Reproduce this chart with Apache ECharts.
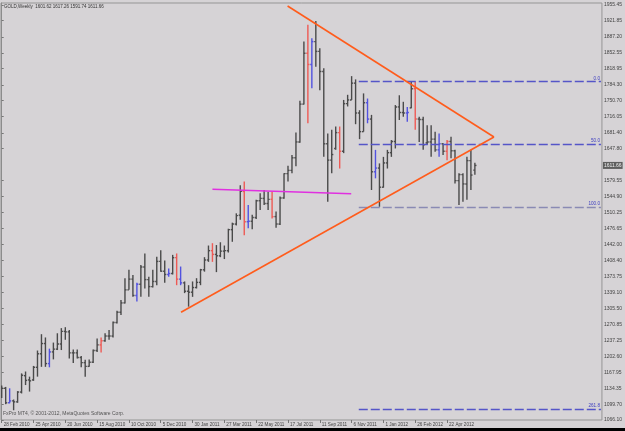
<!DOCTYPE html>
<html lang="en">
<head>
  <meta charset="UTF-8">
  <title>GOLD Weekly</title>
  <script src="https://cdn.jsdelivr.net/npm/echarts@6/dist/echarts.min.js"></script>
  <style>
    html, body { margin: 0; padding: 0; background: #d6d3d6; }
  </style>
</head>
<body>
  <div id="chart" style="width: 625px;height: 431px;"></div>

  <script type="text/javascript">
    // weekly bars, first one is the week of 28 Feb 2010
    const opens  = [1118,1134,1103,1107,1105,1126,1161,1152,1152,1179,1208,1230,1187,1212,1218,1229,1256,1255,1210,1210,
                    1200,1189,1181,1190,1215,1227,1236,1246,1246,1275,1297,1317,1345,1368,1333,1357,1394,1367,1352,1363,
                    1406,1385,1378,1380,1414,1368,1360,1342,1340,1350,1361,1388,1409,1429,1421,1418,1428,1429,1474,1486,
                    1505,1556,1491,1492,1500,1536,1541,1530,1539,1502,1486,1542,1594,1601,1628,1662,1743,1852,1828,1877,
                    1856,1813,1658,1623,1648,1682,1642,1744,1752,1788,1724,1684,1746,1711,1598,1606,1565,1617,1639,1663,
                    1737,1725,1724,1735,1776,1711,1710,1660,1662,1668,1645,1658,1642,1663,1643,1579,1592,1572,1622,1601.62];
    const highs  = [1140,1137,1134,1110,1128,1166,1170,1159,1182,1215,1250,1243,1219,1232,1252,1263,1265,1259,1217,1217,
                    1203,1195,1196,1217,1241,1243,1252,1259,1277,1300,1323,1370,1388,1377,1360,1398,1423,1373,1388,1416,
                    1430,1408,1391,1420,1423,1395,1363,1355,1363,1370,1390,1415,1440,1445,1441,1447,1440,1476,1489,1509,
                    1569,1577,1527,1506,1538,1552,1559,1555,1556,1513,1545,1595,1611,1634,1682,1750,1877,1913,1884,1921,
                    1863,1820,1680,1688,1695,1695,1752,1763,1803,1796,1730,1766,1755,1720,1645,1616,1630,1645,1666,1741,
                    1762,1748,1737,1791,1791,1716,1716,1698,1698,1684,1680,1659,1666,1673,1645,1595,1595,1630,1645,1617.26];
    const lows   = [1113,1100,1102,1087,1103,1123,1141,1127,1150,1159,1180,1180,1179,1196,1216,1216,1238,1198,1188,1198,
                    1179,1159,1180,1188,1212,1211,1234,1238,1243,1273,1291,1316,1345,1330,1320,1330,1348,1330,1350,1355,
                    1384,1360,1373,1378,1355,1355,1338,1309,1330,1348,1355,1384,1405,1405,1383,1415,1411,1425,1448,1483,
                    1495,1462,1477,1475,1497,1516,1527,1516,1498,1478,1484,1540,1577,1595,1610,1660,1742,1702,1777,1823,
                    1773,1630,1534,1595,1645,1605,1638,1738,1752,1700,1668,1684,1702,1559,1584,1523,1564,1605,1630,1648,
                    1709,1716,1705,1734,1688,1662,1645,1656,1630,1641,1630,1634,1623,1627,1573,1527,1534,1538,1559,1591.74];
    const closes = [1134,1103,1107,1105,1126,1162,1151,1150,1179,1208,1230,1187,1212,1218,1229,1256,1255,1210,1210,1200,
                    1189,1181,1190,1215,1227,1236,1246,1246,1275,1297,1317,1345,1368,1333,1357,1394,1367,1352,1363,1406,
                    1385,1378,1380,1414,1368,1360,1342,1340,1350,1361,1388,1409,1429,1421,1418,1428,1429,1474,1486,1504,
                    1556,1491,1492,1500,1536,1541,1530,1539,1502,1486,1542,1594,1601,1628,1662,1743,1852,1828,1877,1856,
                    1813,1658,1623,1635,1682,1642,1744,1752,1788,1724,1684,1746,1711,1598,1606,1565,1617,1639,1663,1737,
                    1725,1724,1725,1776,1711,1710,1656,1662,1668,1645,1658,1642,1663,1643,1579,1592,1572,1622,1591,1611.66];

    // bars painted by the signal indicator
    const redBars  = [25, 44, 53, 61, 68, 77, 85, 104, 112];
    const blueBars = [2, 12, 34, 42, 45, 62, 78, 92, 94, 102, 110];

    const dateLabels = ['28 Feb 2010', '25 Apr 2010', '20 Jun 2010', '15 Aug 2010', '10 Oct 2010', '5 Dec 2010',
                        '30 Jan 2011', '27 Mar 2011', '22 May 2011', '17 Jul 2011', '11 Sep 2011', '6 Nov 2011',
                        '1 Jan 2012', '26 Feb 2012', '22 Apr 2012'];
    const weeksPerLabel = 8;

    const priceLabels = ['1955.45', '1921.85', '1887.20', '1852.55', '1818.95', '1784.30', '1750.70', '1716.05',
                         '1681.40', '1647.80', '1579.55', '1544.90', '1510.25', '1476.65', '1442.00', '1408.40',
                         '1373.75', '1339.10', '1305.50', '1270.85', '1237.25', '1202.60', '1167.95', '1134.35',
                         '1099.70', '1066.10'];

    // objects drawn on the chart: [bar index, price]
    const upperTrend = [[71.9, 1953.3], [123.8, 1672.6]];
    const lowerTrend = [[45.1, 1296.9], [123.8, 1672.6]];
    const pinkLine   = [[53.0, 1560.5], [87.9, 1551.0]];

    const fibHigh = 1791;
    const fibLow = 1523;
    const fibLevels = [0, 50, 100, 261.8];
    const fibStart = 89.8;
    const fibEnd = 150.7;

    const symbol = 'GOLD,Weekly';
    const copyright = 'FxPro MT4, \u00a9 2001-2012, MetaQuotes Software Corp.';

    const FONT = 'Liberation Sans';
    const last = opens.length - 1;

    const barData = opens.map((o, i) => [i, o, highs[i], lows[i], closes[i]]);

    function barColor(i) {
      if (redBars.includes(i)) return '#ee5a55';
      if (blueBars.includes(i)) return '#5252e0';
      return '#4a4a4a';
    }

    function renderBar(params, api) {
      const i = api.value(0);
      const o = api.coord([i, api.value(1)]);
      const h = api.coord([i, api.value(2)]);
      const l = api.coord([i, api.value(3)]);
      const c = api.coord([i, api.value(4)]);
      const x = h[0];
      const style = { stroke: barColor(i), lineWidth: 1.4 };
      return {
        type: 'group',
        children: [
          { type: 'line', shape: { x1: x, y1: h[1], x2: x, y2: l[1] }, style },
          { type: 'line', shape: { x1: x - 1.6, y1: o[1], x2: x, y2: o[1] }, style },
          { type: 'line', shape: { x1: x, y1: c[1], x2: x + 1.6, y2: c[1] }, style },
        ],
      };
    }

    const fibLines = fibLevels.map(lv => {
      const p = fibHigh - lv / 100 * (fibHigh - fibLow);
      const start = { coord: [fibStart, p], label: { formatter: lv.toFixed(1) } };
      if (lv === 100) start.lineStyle = { color: '#8a8ab4', type: [9, 3], width: 1.4 };
      return [start, { coord: [fibEnd, p] }];
    });

    const lineSeries = (data, color, width) => ({
      type: 'line',
      data,
      showSymbol: false,
      silent: true,
      animation: false,
      lineStyle: { color, width },
      z: 5,
    });

    const myChart = echarts.init(document.getElementById('chart'));

    const option = {
      backgroundColor: '#d6d3d6',
      animation: false,
      grid: {
        left: 1, right: 21, top: 3, bottom: 11,
        show: true, borderColor: '#959595', borderWidth: 1,
      },
      xAxis: {
        type: 'value',
        min: -0.175,
        max: 150.95,
        splitLine: { show: false },
        axisLine: { show: false },
        axisTick: {
          customValues: dateLabels.map((d, k) => k * weeksPerLabel),
          length: 3,
          lineStyle: { color: '#777' },
        },
        axisLabel: {
          customValues: dateLabels.map((d, k) => k * weeksPerLabel),
          formatter: v => dateLabels[Math.round(v / weeksPerLabel)],
          align: 'left',
          margin: 2,
          fontSize: 4.6,
          fontFamily: FONT,
          color: '#444',
          padding: [0, 0, 0, 2],
        },
      },
      yAxis: {
        type: 'value',
        position: 'right',
        min: 1066.10,
        max: 1066.10 + 417 * 2.143,
        splitLine: { show: false },
        axisLine: { show: true, lineStyle: { color: '#8c8c8c' } },
        axisTick: {
          customValues: priceLabels.map(Number),
          length: 2,
          lineStyle: { color: '#777' },
        },
        axisLabel: {
          customValues: priceLabels.map(Number),
          formatter: v => v.toFixed(2),
          margin: 2,
          fontSize: 5,
          fontFamily: FONT,
          color: '#444',
        },
      },
      series: [
        {
          type: 'custom',
          renderItem: renderBar,
          data: barData,
          encode: { x: 0, y: [1, 2, 3, 4] },
          clip: true,
          silent: true,
          z: 3,
        },
        {
          ...lineSeries(upperTrend, '#ff5c1c', 1.6),
          markLine: {
            symbol: 'none',
            silent: true,
            animation: false,
            lineStyle: { color: '#5555c8', type: [9, 3], width: 1.4 },
            data: fibLines,
            label: {
              position: 'insideEndTop',
              distance: 1,
              fontSize: 4.6,
              fontFamily: FONT,
              color: '#3c3cc0',
            },
          },
        },
        {
          ...lineSeries(lowerTrend, '#ff5c1c', 1.6),
          markLine: {
            symbol: 'none',
            silent: true,
            animation: false,
            lineStyle: { color: 'rgba(0,0,0,0)', width: 0 },
            data: [{ yAxis: closes[last] }],
            label: {
              position: 'end',
              distance: 1,
              formatter: closes[last].toFixed(2),
              backgroundColor: '#5e5e5e',
              color: '#eeeeee',
              fontSize: 5,
              fontFamily: FONT,
              padding: [1, 1],
            },
          },
        },
        lineSeries(pinkLine, '#e030e0', 1.4),
      ],
      graphic: [
        {
          type: 'text', left: 4, top: 4, silent: true,
          style: {
            text: symbol + '  ' + [opens[last], highs[last], lows[last], closes[last]].map(v => v.toFixed(2)).join(' '),
            fontSize: 4.5, fontFamily: FONT, fill: '#333',
          },
        },
        {
          type: 'text', left: 3, top: 411, silent: true,
          style: { text: copyright, fontSize: 5, fontFamily: FONT, fill: '#555' },
        },
        {
          type: 'rect', left: 0, top: 428, silent: true,
          shape: { width: 625, height: 3 },
          style: { fill: '#000' },
        },
      ],
    };
    myChart.setOption(option);
  </script>
</body>
</html>
